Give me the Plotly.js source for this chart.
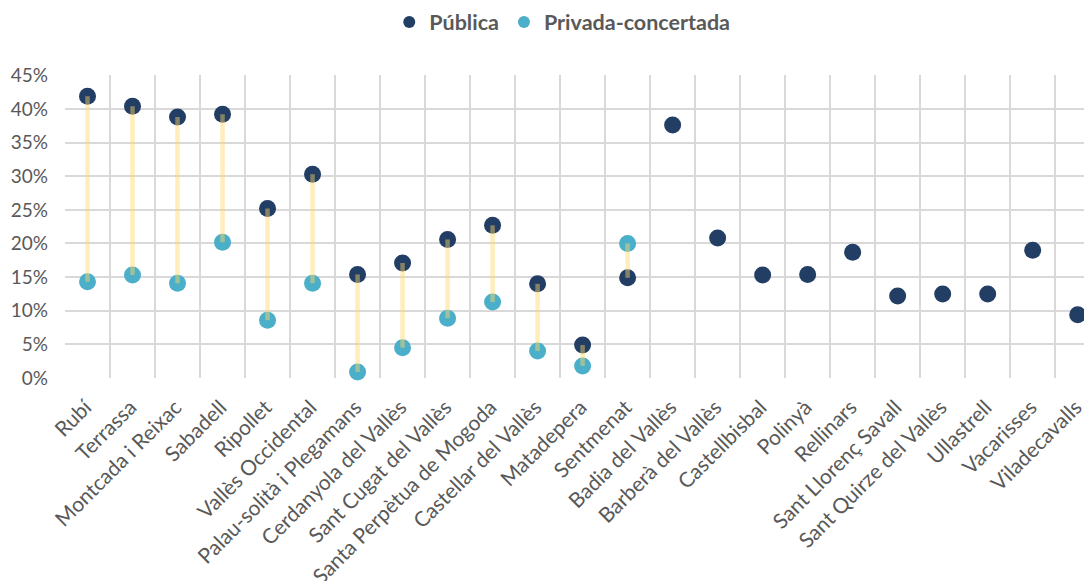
<!DOCTYPE html>
<html>
<head>
<meta charset="utf-8">
<script src="https://cdn.plot.ly/plotly-3.0.1.min.js"></script>
<style>html,body{margin:0;padding:0;background:#fff;}#chart{width:1084px;height:581px;}</style>
</head>
<body>
<div id="chart"></div>
<script>
const municipis = ["Rubí","Terrassa","Montcada i Reixac","Sabadell","Ripollet","Vallès Occidental","Palau-solità i Plegamans","Cerdanyola del Vallès","Sant Cugat del Vallès","Santa Perpètua de Mogoda","Castellar del Vallès","Matadepera","Sentmenat","Badia del Vallès","Barberà del Vallès","Castellbisbal","Polinyà","Rellinars","Sant Llorenç Savall","Sant Quirze del Vallès","Ullastrell","Vacarisses","Viladecavalls"];
const publica = [41.9,40.4,38.8,39.2,25.2,30.3,15.4,17.1,20.6,22.7,14.0,4.9,14.9,37.6,20.8,15.3,15.4,18.7,12.2,12.5,12.5,19.0,9.4];
const privada = [14.3,15.3,14.1,20.2,8.6,14.1,0.9,4.5,8.9,11.3,4.0,1.8,20.0,null,null,null,null,null,null,null,null,null,null];
const yTicks = [0,5,10,15,20,25,30,35,40,45];

const lx = [], ly = [];
municipis.forEach((m,i)=>{
  if(publica[i]!=null && privada[i]!=null){
    lx.push(m,m,null); ly.push(publica[i],privada[i],null);
  }
});

const traces = [
  {type:'scatter',mode:'markers',name:'Pública',x:municipis,y:publica,
   marker:{color:'#223e64',size:17},cliponaxis:false},
  {type:'scatter',mode:'markers',name:'Privada-concertada',x:municipis,y:privada,
   marker:{color:'#4bafc9',size:17},cliponaxis:false},
  {type:'scatter',mode:'lines',x:lx,y:ly,showlegend:false,connectgaps:false,
   line:{color:'rgba(255,214,102,0.45)',width:4.5},hoverinfo:'skip'}
];

const layout = {
  width:1084,height:581,
  margin:{l:65,r:0,t:75,b:203},
  paper_bgcolor:'#fff',plot_bgcolor:'#fff',
  font:{family:'Lato, "Open Sans", sans-serif',color:'#595959',size:19},
  showlegend:true,
  legend:{orientation:'h',x:0.488,xanchor:'center',y:1.175,yanchor:'middle',
    font:{size:21.5,color:'#595959',weight:'bold'},itemsizing:'constant',itemwidth:30,tracegroupgap:0},
  xaxis:{type:'category',range:[-0.5,22.14],tickangle:-45,tickson:'boundaries',
    showgrid:true,gridcolor:'#d9d9d9',gridwidth:2,ticks:'',zeroline:false,showline:false,
    tickfont:{size:21,color:'#595959'},ticklabelstandoff:12,ticklabelshift:-2},
  yaxis:{range:[0,45.05],tickvals:yTicks,ticktext:yTicks.map(v=>v+'%'),
    showgrid:true,gridcolor:'#d9d9d9',gridwidth:2,zeroline:false,showline:false,ticks:'',
    tickfont:{size:19,color:'#595959'},ticklabelstandoff:16}
};

Plotly.newPlot('chart',traces,layout,{displayModeBar:false,staticPlot:true});
</script>
</body>
</html>
